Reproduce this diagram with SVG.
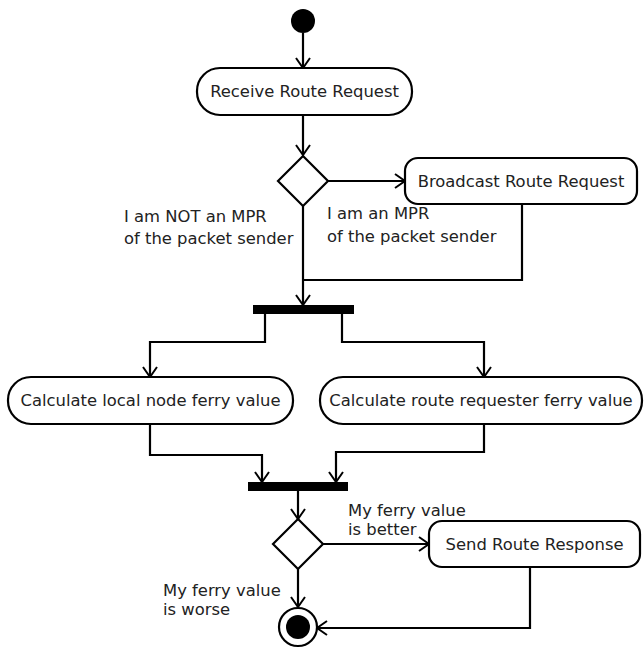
<svg xmlns="http://www.w3.org/2000/svg" width="644" height="648" viewBox="0 0 644 648">
<defs>
<marker id="arr" markerWidth="14" markerHeight="16" refX="11" refY="8" orient="auto" markerUnits="userSpaceOnUse">
<path d="M1,1 L11,8 L1,15" fill="none" stroke="#000" stroke-width="2"/>
</marker>
<style>
.box{fill:#fff;stroke:#000;stroke-width:2.2}
.lbl{font-family:"DejaVu Sans",sans-serif;font-size:16.4px;fill:#222}
.c{text-anchor:middle}
.edge{fill:none;stroke:#000;stroke-width:2.2;marker-end:url(#arr)}
.line{fill:none;stroke:#000;stroke-width:2.2}
.bar{fill:#000}
</style>
</defs>
<rect width="644" height="648" fill="#fff"/>
<g id="connectors">
<path class="edge" d="M303,33 V68"/>
<path class="edge" d="M303,115 V155"/>
<path class="edge" d="M328,181 H405"/>
<path class="line" d="M522,204 V280 H303"/>
<path class="edge" d="M303,206 V305"/>
<path class="edge" d="M265,314 V342 H150 V377"/>
<path class="edge" d="M342,314 V342 H484 V377"/>
<path class="edge" d="M150,424 V455 H262 V482"/>
<path class="edge" d="M484,424 V452 H336 V482"/>
<path class="edge" d="M298,491 V519"/>
<path class="edge" d="M323,544 H429"/>
<path class="edge" d="M298,569 V607"/>
<path class="edge" d="M530,567 V628 H317"/>
<text class="lbl" x="124" y="222">I am NOT an MPR</text>
<text class="lbl" x="124" y="244">of the packet sender</text>
<text class="lbl" x="327" y="219">I am an MPR</text>
<text class="lbl" x="327" y="242">of the packet sender</text>
<text class="lbl" x="348" y="516">My ferry value</text>
<text class="lbl" x="348" y="535">is better</text>
<text class="lbl" x="163" y="596">My ferry value</text>
<text class="lbl" x="163" y="615">is worse</text>
</g>
<g id="start"><circle cx="303" cy="21" r="12" fill="#000"/></g>
<g id="receive"><rect class="box" x="197" y="68" width="215" height="47" rx="23"/><text class="lbl c" x="304.5" y="97">Receive Route Request</text></g>
<g id="decision1"><polygon class="box" points="303,156 328,181 303,206 278,181"/></g>
<g id="broadcast"><rect class="box" x="405" y="158" width="232" height="46" rx="13"/><text class="lbl c" x="521" y="187">Broadcast Route Request</text></g>
<g id="fork"><rect class="bar" x="253" y="305" width="101" height="9"/></g>
<g id="calcLocal"><rect class="box" x="8" y="377" width="285" height="47" rx="23"/><text class="lbl c" x="150.5" y="406">Calculate local node ferry value</text></g>
<g id="calcRequester"><rect class="box" x="320" y="377" width="322" height="47" rx="23"/><text class="lbl c" x="481" y="406">Calculate route requester ferry value</text></g>
<g id="join"><rect class="bar" x="248" y="482" width="100" height="9"/></g>
<g id="decision2"><polygon class="box" points="298,519 323,544 298,569 273,544"/></g>
<g id="sendResponse"><rect class="box" x="429" y="521" width="211" height="46" rx="13"/><text class="lbl c" x="534.5" y="550">Send Route Response</text></g>
<g id="end"><circle cx="298" cy="627" r="19" fill="#fff" stroke="#000" stroke-width="2.2"/><circle cx="298" cy="627" r="12" fill="#000"/></g>
</svg>
